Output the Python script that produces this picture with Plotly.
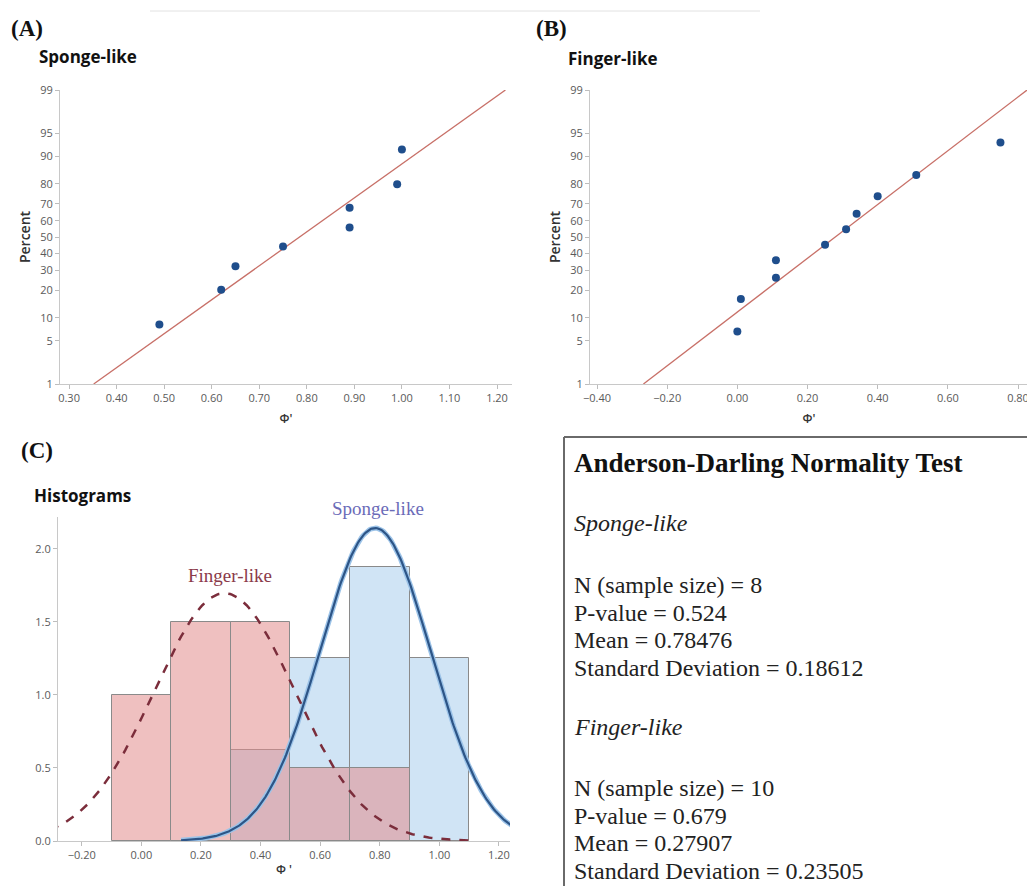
import numpy as np
import plotly.graph_objects as go
from statistics import NormalDist

# ---------------- data ----------------
sponge_phi = [0.49, 0.62, 0.65, 0.75, 0.89, 0.89, 0.99, 1.00]
finger_phi = [0.00, 0.01, 0.11, 0.11, 0.25, 0.31, 0.34, 0.40, 0.51, 0.75]

sponge_n, sponge_p, sponge_mean, sponge_sd = 8, 0.524, 0.78476, 0.18612
finger_n, finger_p, finger_mean, finger_sd = 10, 0.679, 0.27907, 0.23505

percent_ticks = [1, 5, 10, 20, 30, 40, 50, 60, 70, 80, 90, 95, 99]
xticks_a = [0.30, 0.40, 0.50, 0.60, 0.70, 0.80, 0.90, 1.00, 1.10, 1.20]
xticks_b = [-0.40, -0.20, 0.00, 0.20, 0.40, 0.60, 0.80]
xticks_c = [-0.20, 0.00, 0.20, 0.40, 0.60, 0.80, 1.00, 1.20]
yticks_c = [0.0, 0.5, 1.0, 1.5, 2.0]

W, H = 1035, 886
OFF = 8  # page body margin of the written html
def px(x): return (x - OFF) / W
def py(y): return 1 - (y - OFF) / H

std = NormalDist()
def z(pct): return std.inv_cdf(pct / 100.0)

def plot_positions(vals):
    s = sorted(vals)
    n = len(s)
    pct = [(i - 0.3) / (n + 0.4) * 100 for i in range(1, n + 1)]
    return s, [z(p) for p in pct]

MARK = "#1f4e8c"
FIT = "#c87068"
TICKFONT = dict(family="Open Sans, Noto Sans, sans-serif", size=11, color="#5a5a5a")
TITLEFONT = dict(family="Open Sans, Noto Sans, sans-serif", size=12, color="#333333", weight=600)
PCTFONT = dict(family="Open Sans, Noto Sans, sans-serif", size=14, color="#333333", weight=600)

fig = go.Figure()

# ---------------- (A) and (B) probability plots ----------------
for vals, mean, sd, xa, ya in [(sponge_phi, sponge_mean, sponge_sd, "x", "y"),
                               (finger_phi, finger_mean, finger_sd, "x2", "y2")]:
    zl = [z(1), z(99)]
    fig.add_trace(go.Scatter(x=[mean + sd * q for q in zl], y=zl, mode="lines",
                             line=dict(color=FIT, width=1.3), xaxis=xa, yaxis=ya,
                             showlegend=False, hoverinfo="skip"))
    xs, zs = plot_positions(vals)
    fig.add_trace(go.Scatter(x=xs, y=zs, mode="markers",
                             marker=dict(color=MARK, size=8), xaxis=xa, yaxis=ya,
                             showlegend=False))

# ---------------- (C) histograms ----------------
fig.add_trace(go.Histogram(x=sponge_phi, histnorm="probability density",
                           xbins=dict(start=0.3, end=1.1, size=0.2),
                           marker=dict(color="rgba(165,203,236,0.52)",
                                       line=dict(color="#8a8a8a", width=1)),
                           xaxis="x3", yaxis="y3", showlegend=False))
fig.add_trace(go.Histogram(x=finger_phi, histnorm="probability density",
                           xbins=dict(start=-0.1, end=0.9, size=0.2),
                           marker=dict(color="rgba(225,140,140,0.55)",
                                       line=dict(color="#8a8a8a", width=1)),
                           xaxis="x3", yaxis="y3", showlegend=False))

def normal_curve(mean, sd):
    d = NormalDist(mean, sd)
    xs = np.linspace(mean - 3.5 * sd, mean + 3.5 * sd, 300)
    return xs, [d.pdf(v) for v in xs]

fx, fy = normal_curve(finger_mean, finger_sd)
sx, sy = normal_curve(sponge_mean, sponge_sd)
fig.add_trace(go.Scatter(x=sx, y=sy, mode="lines", line=dict(color="#9cc3e8", width=5),
                         xaxis="x3", yaxis="y3", showlegend=False, hoverinfo="skip"))
fig.add_trace(go.Scatter(x=sx, y=sy, mode="lines", line=dict(color="#2d5587", width=2.2),
                         xaxis="x3", yaxis="y3", showlegend=False))
fig.add_trace(go.Scatter(x=fx, y=fy, mode="lines",
                         line=dict(color="#7b2d3b", width=2.5, dash="dash"),
                         xaxis="x3", yaxis="y3", showlegend=False))

axis_common = dict(showline=True, linecolor="#c8c8c8", linewidth=1, showgrid=False,
                   zeroline=False, ticks="outside", ticklen=4, tickcolor="#bdbdbd",
                   tickfont=TICKFONT, automargin=False)

fig.update_layout(
    width=W, height=H, margin=dict(l=0, r=0, t=0, b=0),
    paper_bgcolor="white", plot_bgcolor="white",
    barmode="overlay", bargap=0,
    xaxis=dict(domain=[px(60), px(512)], range=[0.281, 1.2315], anchor="y",
               tickvals=xticks_a, tickformat=".2f",
               title=dict(text="Φ'", font=TITLEFONT, standoff=10), **axis_common),
    yaxis=dict(domain=[py(384), py(90)], range=[z(1), z(99)], anchor="x",
               tickvals=[z(p) for p in percent_ticks], ticktext=[str(p) for p in percent_ticks],
               title=dict(text="Percent", font=PCTFONT, standoff=6), **axis_common),
    xaxis2=dict(domain=[px(590), px(1028)], range=[-0.42, 0.8285], anchor="y2",
                tickvals=xticks_b, tickformat=".2f",
                title=dict(text="Φ'", font=TITLEFONT, standoff=10), **axis_common),
    yaxis2=dict(domain=[py(384), py(90)], range=[z(1), z(99)], anchor="x2",
                tickvals=[z(p) for p in percent_ticks], ticktext=[str(p) for p in percent_ticks],
                title=dict(text="Percent", font=PCTFONT, standoff=6), **axis_common),
    xaxis3=dict(domain=[px(58), px(510)], range=[-0.2795, 1.237], anchor="y3",
                tickvals=xticks_c, tickformat=".2f",
                title=dict(text="Φ '", font=TITLEFONT, standoff=4), **axis_common),
    yaxis3=dict(domain=[py(841), py(517)], range=[0, 2.219], anchor="x3",
                tickvals=yticks_c, tickformat=".1f", **axis_common),
)

ann = []
def label(text, x, y, size, family, color="#111111", bold=False, italic=False,
          xanchor="left", yanchor="middle"):
    t = text
    if bold:
        t = "<b>" + t + "</b>"
    if italic:
        t = "<i>" + t + "</i>"
    ann.append(dict(text=t, x=px(x), y=py(y), xref="paper", yref="paper", showarrow=False,
                    xanchor=xanchor, yanchor=yanchor, borderpad=0,
                    font=dict(family=family, size=size, color=color)))

SERIF = "Liberation Serif, Times New Roman, serif"
SANS = "Open Sans, Noto Sans, sans-serif"

label("(A)", 10, 29, 23, SERIF, bold=True)
label("(B)", 535, 29, 23, SERIF, bold=True)
label("(C)", 20, 450, 23, SERIF, bold=True)
label("Sponge-like", 38, 57, 17, SANS, bold=True)
label("Finger-like", 567, 58, 17, SANS, bold=True)
label("Histograms", 33, 495, 17, SANS, bold=True)
label("Finger-like", 230, 575, 19, SERIF, color="#8b3a4a", xanchor="center")
label("Sponge-like", 378, 508, 19, SERIF, color="#6b6bb8", xanchor="center")

TX = 573
FS = 24
label("Anderson-Darling Normality Test", TX, 463, 27, SERIF, bold=True)
label("Sponge-like", TX, 523, FS, SERIF, color="#222222", italic=True)
label(f"N (sample size) = {sponge_n}", TX, 585, FS, SERIF, color="#222222")
label(f"P-value = {sponge_p:.3f}", TX, 612.5, FS, SERIF, color="#222222")
label(f"Mean = {sponge_mean:.5f}", TX, 640, FS, SERIF, color="#222222")
label(f"Standard Deviation = {sponge_sd:.5f}", TX, 667.5, FS, SERIF, color="#222222")
label("Finger-like", TX, 727, FS, SERIF, color="#222222", italic=True)
label(f"N (sample size) = {finger_n}", TX, 788, FS, SERIF, color="#222222")
label(f"P-value = {finger_p:.3f}", TX, 815.5, FS, SERIF, color="#222222")
label(f"Mean = {finger_mean:.5f}", TX, 843, FS, SERIF, color="#222222")
label(f"Standard Deviation = {finger_sd:.5f}", TX, 870.5, FS, SERIF, color="#222222")

fig.update_layout(annotations=ann)

fig.update_layout(shapes=[
    dict(type="line", xref="paper", yref="paper", x0=px(150), x1=px(760), y0=py(11), y1=py(11),
         line=dict(color="#e2e2e2", width=1)),
    dict(type="line", xref="paper", yref="paper", x0=px(564), x1=px(1043), y0=py(437), y1=py(437),
         line=dict(color="#6a6a6a", width=2)),
    dict(type="line", xref="paper", yref="paper", x0=px(564), x1=px(564), y0=py(437), y1=py(894),
         line=dict(color="#6a6a6a", width=2)),
])

fig.write_html("out.html")
